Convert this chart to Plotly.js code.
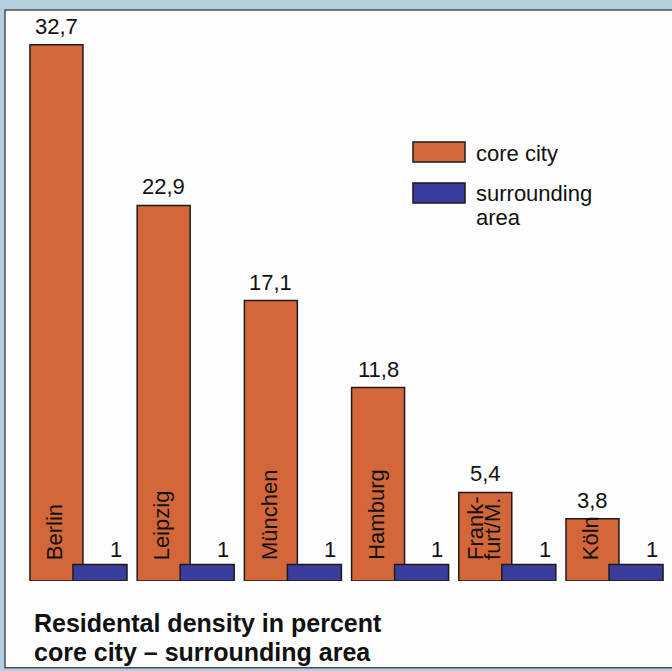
<!DOCTYPE html>
<html>
<head>
<meta charset="utf-8">
<script src="https://cdn.plot.ly/plotly-3.0.1.min.js"></script>
<style>html,body{margin:0;padding:0;background:#b5cfe0;}#chart{width:672px;height:671px;}</style>
</head>
<body>
<div id="chart"></div>
<script>
// ---- data ----
const cities = ["Berlin", "Leipzig", "München", "Hamburg", "Frankfurt/M.", "Köln"];
const cityLabelLines = [["Berlin"], ["Leipzig"], ["München"], ["Hamburg"], ["Frank-", "furt/M."], ["Köln"]];
const coreCity = [32.7, 22.9, 17.1, 11.8, 5.4, 3.8];
const coreLabels = ["32,7", "22,9", "17,1", "11,8", "5,4", "3,8"];
const surroundingArea = [1, 1, 1, 1, 1, 1];
const surroundLabels = ["1", "1", "1", "1", "1", "1"];
const seriesNames = ["core city", "surrounding area"];
const legendLines = [["core city"], ["surrounding", "area"]];
const titleLines = ["Residental density in percent", "core city – surrounding area"];

// ---- style ----
const FONT = "Liberation Sans, Arial, Helvetica, sans-serif";
const ORANGE = "#d4673a";
const BLUE = "#3b3d9c";
const EDGE = "#1e1a1a";
const INK = "#111111";

// lines drawn at glyph size `px`, with line pitch given by the base font size
function lines(arr, px, bold) {
  return arr.map(t => '<span style="font-size:' + px + 'px">' + (bold ? '<b>' + t + '</b>' : t) + '</span>').join('<br>');
}

const traces = [
  {
    type: "bar", name: seriesNames[0], x: cities, y: coreCity,
    width: 0.494, offset: -0.5,
    marker: {color: ORANGE, line: {color: EDGE, width: 1.5}},
    hoverinfo: "skip", showlegend: false
  },
  {
    type: "bar", name: seriesNames[1], x: cities, y: surroundingArea,
    width: 0.504, offset: -0.099,
    marker: {color: BLUE, line: {color: EDGE, width: 1.5}},
    hoverinfo: "skip", showlegend: false
  }
];

const annotations = [];
cities.forEach((c, i) => {
  annotations.push({
    x: i - 0.253, y: coreCity[i], xref: "x", yref: "y",
    text: coreLabels[i], showarrow: false, xanchor: "center", yanchor: "bottom",
    yshift: 4, font: {family: FONT, size: 22, color: INK}
  });
  annotations.push({
    x: i + 0.30, y: surroundingArea[i], xref: "x", yref: "y",
    text: surroundLabels[i], showarrow: false, xanchor: "center", yanchor: "bottom",
    yshift: 1, font: {family: FONT, size: 22, color: INK}
  });
  annotations.push({
    x: i - 0.265, y: 1.16, xref: "x", yref: "y",
    text: lines(cityLabelLines[i], 22, false), showarrow: false, textangle: -90, align: "left",
    xanchor: "center", yanchor: "bottom",
    font: {family: FONT, size: 13, color: INK}
  });
});

// legend (custom, drawn in paper coords)
annotations.push({
  x: 0.705, y: 0.774, xref: "paper", yref: "paper", text: lines(legendLines[0], 22, false),
  showarrow: false, xanchor: "left", yanchor: "top", align: "left",
  font: {family: FONT, size: 18.5, color: INK}
});
annotations.push({
  x: 0.705, y: 0.704, xref: "paper", yref: "paper", text: lines(legendLines[1], 22, false),
  showarrow: false, xanchor: "left", yanchor: "top", align: "left",
  font: {family: FONT, size: 18.5, color: INK}
});

// title
annotations.push({
  x: 0.0186, y: -0.0462, xref: "paper", yref: "paper",
  text: lines(titleLines, 25, true),
  showarrow: false, xanchor: "left", yanchor: "top", align: "left",
  font: {family: FONT, size: 22, color: INK}
});

const shapes = [
  {type: "rect", xref: "paper", yref: "paper", x0: -0.0233, x1: 1.03, y0: -0.152, y1: 1.0,
   fillcolor: "#fdfdfd", line: {color: "#4a4f55", width: 1.5}, layer: "below"},
  {type: "rect", xref: "paper", yref: "paper", x0: 0.6102, x1: 0.691, y0: 0.7338, y1: 0.7688,
   fillcolor: ORANGE, line: {color: EDGE, width: 1.5}},
  {type: "rect", xref: "paper", yref: "paper", x0: 0.6102, x1: 0.691, y0: 0.662, y1: 0.697,
   fillcolor: BLUE, line: {color: EDGE, width: 1.5}}
];

const layout = {
  width: 672, height: 671,
  margin: {l: 20, r: 8, t: 10, b: 90},
  paper_bgcolor: "#b5cfe0",
  plot_bgcolor: "rgba(0,0,0,0)",
  barmode: "overlay",
  showlegend: false,
  xaxis: {type: "category", categoryorder: "array", categoryarray: cities,
          range: [-0.593, 5.414], showticklabels: false, showgrid: false,
          zeroline: false, showline: false, ticks: "", fixedrange: true},
  yaxis: {range: [0, 34.82], showticklabels: false, showgrid: false,
          zeroline: false, showline: false, ticks: "", fixedrange: true},
  annotations: annotations,
  shapes: shapes
};

Plotly.newPlot("chart", traces, layout, {displayModeBar: false, staticPlot: true});
</script>
</body>
</html>
